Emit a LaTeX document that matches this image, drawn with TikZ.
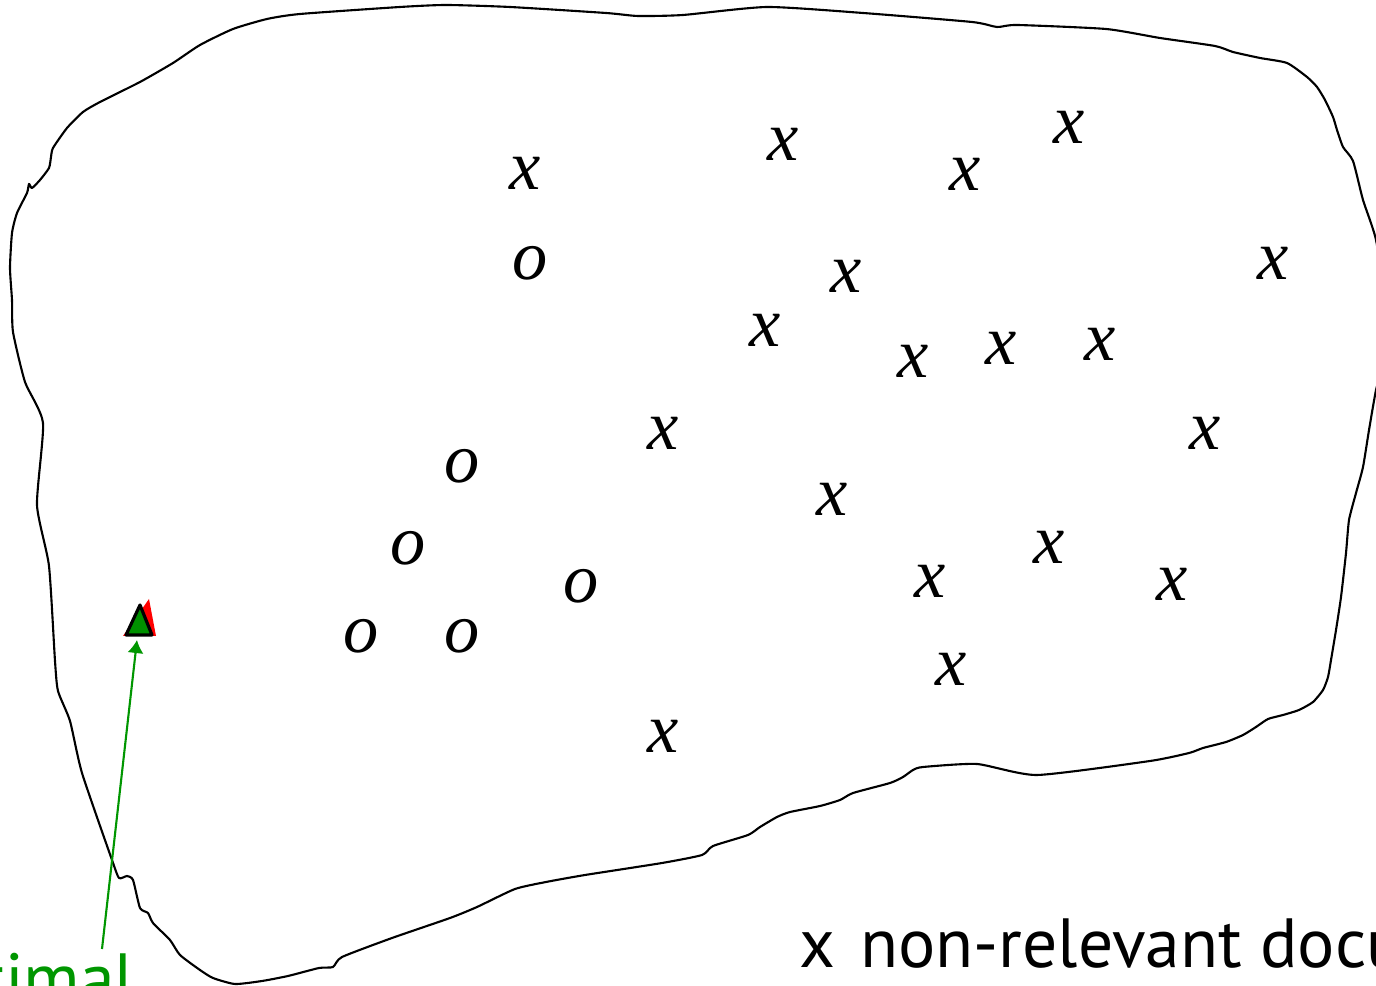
\documentclass[tikz,border=0pt]{standalone}
\usepackage{fontspec}
\setmainfont{Liberation Serif}
\newfontfamily\lblfont{PT Sans}
\usetikzlibrary{arrows.meta}
\definecolor{optgreen}{RGB}{0,150,0}
\definecolor{trigreen}{RGB}{0,145,0}

\begin{document}
\begin{tikzpicture}[x=0.01cm, y=-0.01cm, >={Latex[length=3.7pt,width=4.6pt]}]
        \tikzset{
            doc/.style ={inner sep=0pt, font=\fontsize{20}{24}\selectfont\itshape},
            lbl/.style ={inner sep=0pt, font=\lblfont\fontsize{19.8}{24}\selectfont},
            blob/.style={draw, line width=0.6pt, line join=round}
        }
        \useasboundingbox (0,0) rectangle (1376,986);
        \clip (0,0) rectangle (1376,986);
        %% ---- Espacio de documentos ----
        \draw[blob] plot[smooth cycle, tension=0.35] coordinates {
            (12,300) (10,268) (12,233) (17,213) (27,193) (29,184) (32,188)
            (40,180) (49,168) (51,157) (53,148) (67,128) (83,112) (100,102)
            (140,82) (173,63) (200,45) (233,29) (267,19) (300,14) (400,7)
            (446,5) (510,7) (606,13) (638,16) (683,15) (767,7) (863,13)
            (972,22) (997,27) (1017,25) (1106,29) (1160,38) (1215,46)
            (1233,52) (1260,58) (1287,63) (1307,77) (1317,87) (1325,100)
            (1333,117) (1337,130) (1343,147) (1353,161) (1363,200) (1376,240)
            (1386,310) (1384,360) (1376,390) (1369,430) (1363,467) (1356,493)
            (1349,520) (1346,553) (1341,597) (1336,630) (1331,660) (1328,677)
            (1323,690) (1313,702) (1299,710) (1283,715) (1268,719) (1256,727)
            (1243,735) (1226,742) (1203,748) (1189,753) (1150,761) (1037,775)
            (977,764) (923,767) (913,770) (903,777) (890,783) (853,793)
            (840,800) (820,806) (790,812) (777,817) (760,827) (748,835)
            (713,846) (702,855) (662,863) (585,875) (546,882) (515,889)
            (477,907) (450,918) (392,938) (342,957) (333,967) (319,968)
            (288,976) (262,981) (235,984) (213,978) (200,970) (180,955)
            (170,940) (153,923) (148,913) (140,908) (133,880) (127,876)
            (119,878) (112,860) (82,773) (70,721) (58,691) (55,661)
            (49,566) (37,505) (43,423) (25,382) (13,332)
        };
        %% ---- No relevantes ----
        \node[doc] (x1)  at (525,173)  {x};
        \node[doc] (x2)  at (783,144)  {x};
        \node[doc] (x3)  at (965,174)  {x};
        \node[doc] (x4)  at (1069,127) {x};
        \node[doc] (x5)  at (1273,263) {x};
        \node[doc] (x6)  at (846,276)  {x};
        \node[doc] (x7)  at (765,330)  {x};
        \node[doc] (x8)  at (913,361)  {x};
        \node[doc] (x9)  at (1001,348) {x};
        \node[doc] (x10) at (1100,344) {x};
        \node[doc] (x11) at (663,433)  {x};
        \node[doc] (x12) at (1205,433) {x};
        \node[doc] (x13) at (832,499)  {x};
        \node[doc] (x14) at (1049,547) {x};
        \node[doc] (x15) at (930,581)  {x};
        \node[doc] (x16) at (1172,584) {x};
        \node[doc] (x17) at (951,669)  {x};
        \node[doc] (x18) at (663,736)  {x};
        %% ---- Relevantes ----
        \node[doc] (o1) at (530,263) {o};
        \node[doc] (o2) at (462,466) {o};
        \node[doc] (o3) at (408,548) {o};
        \node[doc] (o4) at (581,586) {o};
        \node[doc] (o5) at (361,636) {o};
        \node[doc] (o6) at (462,636) {o};
        %% ---- Consulta óptima ----
        \fill[red] (123,636) -- (149,599) -- (156,636) -- cycle;
        \filldraw[fill=trigreen, draw=black, line width=0.9pt, line join=round]
            (126,635) -- (140,605) -- (152,635) -- cycle;
        \coordinate (qopt) at (137,640);
        \coordinate (foot) at (102,949);
        \draw[->, optgreen, line width=0.6pt] (foot) -- (qopt);
        %% ---- Etiquetas ----
        \node[lbl, text=optgreen, anchor=base east] (optlbl) at (136,1002) {timal};
        \node[lbl, anchor=base west] (nonrel) at (799,967) {x\hspace{7pt}non-relevant docu};
\end{tikzpicture}
\end{document}
